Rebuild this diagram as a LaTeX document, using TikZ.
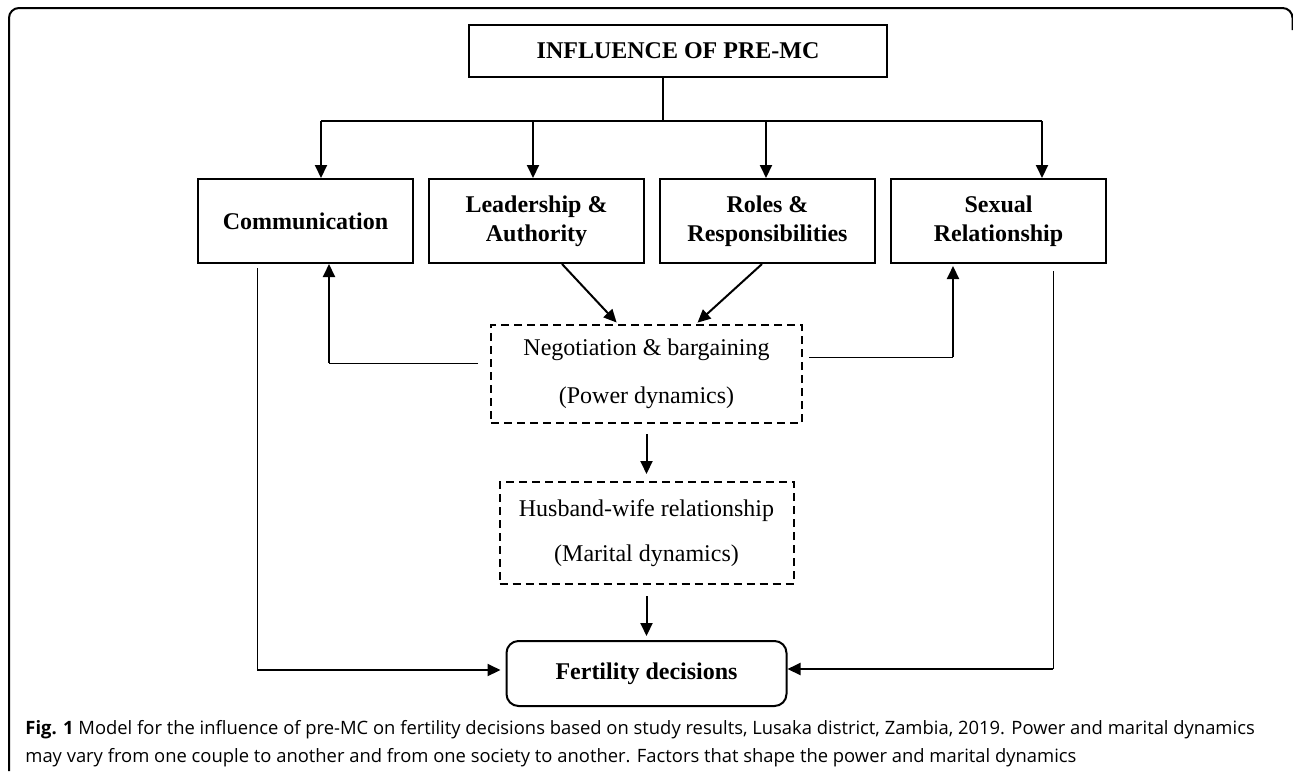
\documentclass[tikz,border=0pt]{standalone}
\usepackage{fontspec}
\setmainfont{Liberation Serif}
\newfontfamily\capfont{Open Sans}
\usetikzlibrary{
  arrows.meta,
  positioning,
  calc
}

\begin{document}
\begin{tikzpicture}[
      x=0.5pt, y=-0.5pt,
      >={Triangle[length=6.5pt,width=6pt]},
      node distance=7pt,
      fator/.style={draw, line width=1pt, minimum width=107.5pt, minimum height=42pt, align=center, inner sep=2pt, font=\fontsize{12}{14.5}\selectfont\bfseries},
      dinamica/.style={draw, line width=1pt, dash pattern=on 4pt off 2.5pt, align=center, inner sep=2pt},
      decisao/.style={draw, line width=1pt, rounded corners=6pt, minimum width=140pt, minimum height=32.5pt, font=\fontsize{12}{14.5}\selectfont\bfseries},
      legenda/.style={anchor=base west, inner sep=0pt, font=\capfont\fontsize{9.2}{13.5}\selectfont},
      seta/.style={->, line width=1pt},
      conn/.style={line width=1pt},
      conn_fina/.style={line width=0.5pt}
  ]
      \useasboundingbox (0,0) rectangle (1293,771);

      % Moldura
      \draw[line width=1pt, rounded corners=5pt] (9,771) -- (9,8) -- (1292.5,8) -- (1292.5,30);

      % Caixas
      \node[draw, line width=1pt, minimum width=209pt, minimum height=26pt, font=\fontsize{12}{14.5}\selectfont\bfseries] (infl) at (678,51) {INFLUENCE OF PRE-MC};

      \node[fator] (comm) at (305.5,221) {Communication};
      \node[fator, right=of comm] (lead) {Leadership \&\\Authority};
      \node[fator, right=of lead] (roles) {Roles \&\\Responsibilities};
      \node[fator, right=of roles] (sex) {Sexual\\Relationship};

      \node[dinamica, minimum width=155.5pt, minimum height=49pt, font=\fontsize{12}{24}\selectfont] (neg) at (646.5,374) {Negotiation \& bargaining\\(Power dynamics)};
      \node[dinamica, minimum width=147pt, minimum height=51pt, font=\fontsize{12}{22.5}\selectfont, below=28.5pt of neg] (hw) {Husband-wife relationship\\(Marital dynamics)};
      \node[decisao, below=27.5pt of hw] (fert) {Fertility decisions};

      % Ramificacao
      \coordinate (bar) at (663,121);
      \draw[conn] ([xshift=-7.5pt]infl.south) -- (bar);
      \draw[conn] ([xshift=7.75pt]comm.north |- bar) -- ([xshift=21.75pt]sex.north |- bar);
      \draw[seta] ([xshift=7.75pt]comm.north |- bar) -- ([xshift=7.75pt]comm.north);
      \draw[seta] ([xshift=-1.75pt]lead.north |- bar) -- ([xshift=-1.75pt]lead.north);
      \draw[seta] ([xshift=-0.75pt]roles.north |- bar) -- ([xshift=-0.75pt]roles.north);
      \draw[seta] ([xshift=21.75pt]sex.north |- bar) -- ([xshift=21.75pt]sex.north);

      % Para a negociacao
      \draw[seta, shorten >=1pt] ([xshift=12.75pt]lead.south) -- ([xshift=-14.25pt]neg.north);
      \draw[seta, shorten >=1pt] ([xshift=-2.75pt]roles.south) -- ([xshift=24.75pt]neg.north);

      % Retorno da negociacao
      \coordinate[xshift=-6pt, yshift=5.5pt] (na) at (neg.west);
      \coordinate[xshift=11.75pt] (ca) at (comm.south);
      \draw[conn_fina] (na) -- (na -| ca);
      \draw[seta] (na -| ca) -- (ca);

      \coordinate[xshift=3pt, yshift=8.5pt] (nb) at (neg.east);
      \coordinate[xshift=-22.75pt] (sa) at (sex.south);
      \draw[conn_fina] (nb) -- (nb -| sa);
      \draw[seta, shorten >=1pt] (nb -| sa) -- (sa);

      % Dinamicas
      \draw[seta, shorten <=5pt, shorten >=3.5pt] (neg.south) -- (hw.north);
      \draw[seta, shorten <=5.5pt, shorten >=2pt] (hw.south) -- (fert.north);

      % Ligacoes diretas
      \coordinate[xshift=-24.25pt, yshift=-2pt] (cb) at (comm.south);
      \coordinate[yshift=1.75pt] (fw) at (fert.west);
      \draw[conn_fina] (cb) -- (cb |- fw);
      \draw[seta, shorten >=2.5pt] (cb |- fw) -- (fw);

      \coordinate[xshift=27.25pt, yshift=-3.5pt] (sb) at (sex.south);
      \coordinate[yshift=2.25pt] (fe) at (fert.east);
      \draw[conn_fina] (sb) -- (sb |- fe);
      \draw[seta] (sb |- fe) -- (fe);

      % Legenda
      \node[legenda] (cap1) at (25,734) {\textbf{Fig. 1} Model for the influence of pre-MC on fertility decisions based on study results, Lusaka district, Zambia, 2019. Power and marital dynamics};
      \node[legenda] (cap2) at (25,762) {may vary from one couple to another and from one society to another. Factors that shape the power and marital dynamics};

  \end{tikzpicture}
\end{document}
